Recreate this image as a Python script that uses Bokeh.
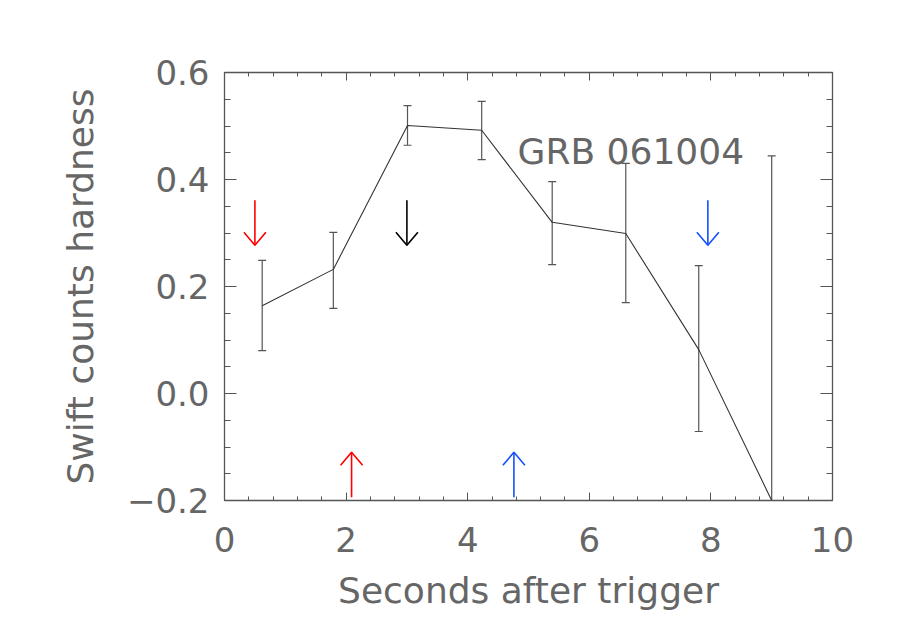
from bokeh.plotting import figure
from bokeh.models import (Range1d, LinearAxis, FixedTicker, Whisker, TeeHead,
                          ColumnDataSource, Label)
from bokeh.embed import file_html
from bokeh.resources import INLINE
import numpy as np

# ---- data ----
time_s = [0.62, 1.79, 3.01, 4.23, 5.39, 6.60, 7.80, 9.00]
hardness = [0.164, 0.232, 0.501, 0.492, 0.320, 0.299, 0.082, -0.200]
err_upper = [0.249, 0.301, 0.538, 0.546, 0.396, 0.430, 0.239, 0.444]
err_lower = [0.080, 0.159, 0.464, 0.437, 0.241, 0.170, -0.071, -0.844]

arrow_x = [0.50, 3.00, 7.95, 2.09, 4.76]
arrow_tail = [0.361, 0.361, 0.361, -0.194, -0.194]
arrow_tip = [0.277, 0.277, 0.277, -0.110, -0.110]
arrow_color = ["#ff0000", "#000000", "#1450ff", "#ff0000", "#1450ff"]

x_ticks = [0, 2, 4, 6, 8, 10]
x_tick_labels = ["0", "2", "4", "6", "8", "10"]
y_ticks = [-0.2, 0.0, 0.2, 0.4, 0.6]
y_tick_labels = ["\u22120.2", "0.0", "0.2", "0.4", "0.6"]

title_text = "GRB 061004"
x_label = "Seconds after trigger"
y_label = "Swift counts hardness"

# ---- style ----
FONT = "DejaVu Sans"
TXT_COLOR = "#666666"
AX_COLOR = "#555555"
FS = "34px"
X0, X1 = 0, 10
Y0, Y1 = -0.2, 0.6
W, H = 884, 627
BL, BR, BT, BB = 224, 52, 72, 127
frame_w = W - BL - BR
frame_h = H - BT - BB

p = figure(width=W, height=H, output_backend="svg", toolbar_location=None,
           x_range=Range1d(X0, X1), y_range=Range1d(Y0, Y1),
           min_border_left=BL, min_border_right=BR,
           min_border_top=BT, min_border_bottom=BB,
           x_axis_location=None, y_axis_location=None)
p.xgrid.visible = False
p.ygrid.visible = False
p.outline_line_color = None
p.background_fill_color = "white"
p.border_fill_color = "white"

x_minor = list(np.arange(X0, X1 + 1e-9, 0.4))
y_minor = list(np.arange(Y0, Y1 + 1e-9, 0.05))
xt = FixedTicker(ticks=x_ticks, minor_ticks=x_minor)
yt = FixedTicker(ticks=y_ticks, minor_ticks=y_minor)


def style_axis(ax, major_len, minor_len, show_labels):
    ax.axis_line_color = AX_COLOR
    ax.axis_line_width = 1.3
    ax.major_tick_line_color = AX_COLOR
    ax.minor_tick_line_color = AX_COLOR
    ax.major_tick_in = major_len
    ax.major_tick_out = 0
    ax.minor_tick_in = minor_len
    ax.minor_tick_out = 0
    ax.major_label_text_font = FONT
    ax.major_label_text_font_size = FS
    ax.major_label_text_color = TXT_COLOR if show_labels else None
    ax.axis_label_text_font = FONT
    ax.axis_label_text_font_size = FS
    ax.axis_label_text_font_style = "normal"
    ax.axis_label_text_color = TXT_COLOR


bottom = LinearAxis(ticker=xt, axis_label=x_label,
                    major_label_overrides={t: l for t, l in zip(x_ticks, x_tick_labels)})
style_axis(bottom, 8, 4, True)
bottom.major_label_standoff = 26
bottom.axis_label_standoff = 15
bottom.axis_label_text_font_size = "36px"
p.add_layout(bottom, "below")

top = LinearAxis(ticker=xt)
style_axis(top, 8, 4, False)
top.major_label_text_font_size = "1px"
p.add_layout(top, "above")

left = LinearAxis(ticker=yt, axis_label=y_label,
                  major_label_overrides={t: l for t, l in zip(y_ticks, y_tick_labels)})
style_axis(left, 12, 6, True)
left.major_label_standoff = 15
left.axis_label_standoff = 23
left.axis_label_text_font_size = "36px"
p.add_layout(left, "left")

right = LinearAxis(ticker=yt)
style_axis(right, 12, 6, False)
right.major_label_text_font_size = "1px"
p.add_layout(right, "right")

# data line
p.line(time_s, hardness, line_color="#333333", line_width=1.1)

# error bars
src = ColumnDataSource(dict(x=time_s, upper=err_upper, lower=err_lower))
head_kw = dict(size=8, line_color="#555555", line_width=1.2)
p.add_layout(Whisker(source=src, base="x", upper="upper", lower="lower",
                     dimension="height", line_color="#555555", line_width=1.2,
                     upper_head=TeeHead(**head_kw), lower_head=TeeHead(**head_kw)))

# arrows
hw = 11 * (X1 - X0) / frame_w
hh = 13 * (Y1 - Y0) / frame_h
shaft_xs, shaft_ys, head_xs, head_ys = [], [], [], []
for x, t0, t1 in zip(arrow_x, arrow_tail, arrow_tip):
    s = 1 if t1 > t0 else -1
    shaft_xs.append([x, x])
    shaft_ys.append([t0, t1])
    head_xs.append([x - hw, x, x + hw])
    head_ys.append([t1 - s * hh, t1, t1 - s * hh])
p.multi_line(shaft_xs, shaft_ys, line_color=arrow_color, line_width=1.6)
p.multi_line(head_xs, head_ys, line_color=arrow_color, line_width=1.6)

# annotation
p.add_layout(Label(x=4.82, y=0.453, text=title_text, text_font=FONT,
                   text_font_size="36px", text_color=TXT_COLOR,
                   text_baseline="alphabetic", text_align="left"))

open("out.html", "w").write(file_html(p, INLINE))
